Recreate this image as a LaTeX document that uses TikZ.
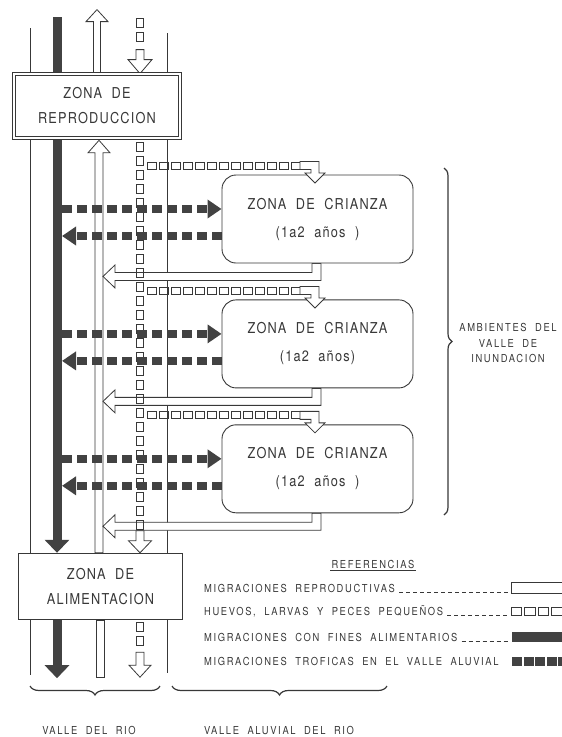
\documentclass[tikz,border=0pt]{standalone}
\usepackage{fontspec}
\setmainfont{TeX Gyre Heros}
\newfontfamily\zonafont{TeX Gyre Heros}[FakeStretch=0.85,LetterSpace=8,WordSpace=2]
\newfontfamily\notafont{TeX Gyre Heros}[FakeStretch=0.85,LetterSpace=15,WordSpace=2]
\usetikzlibrary{arrows.meta,positioning,backgrounds,decorations.pathreplacing,decorations.markings}
\definecolor{ink}{gray}{0.22}
\definecolor{bar}{gray}{0.26}
\tikzset{
  eggs/.style={decoration={markings,mark=between positions 0 and 1 step #1 with {\draw[ink,line width=0.8pt] (-4.5,-3.5) rectangle (4.5,3.5);}},decorate},
  curly/.style={draw=ink,line width=1.2pt,decorate,decoration={brace,amplitude=#1}}
}
\begin{document}
\begin{tikzpicture}[x=1pt,y=1pt]
\useasboundingbox (0,0) rectangle (562,-737);
\tikzstyle{zonanode} = [draw=ink,fill=white,align=center,text=ink,font={\zonafont\fontsize{15}{25}\selectfont}]
\tikzstyle{crianza} = [zonanode,rounded corners=14pt,line width=0.9pt,minimum width=191pt,minimum height=88pt]
\tikzstyle{hollow} = [draw=ink,fill=white,line width=0.8pt,line join=miter]
\tikzstyle{river} = [draw=ink,line width=0.8pt]
\tikzstyle{feed} = [draw=bar,line width=9pt,-{Triangle[length=13pt,width=24pt]}]
\tikzstyle{tropho} = [draw=bar,line width=8pt,dash pattern=on 10pt off 5pt,-{Triangle[length=14pt,width=18pt]}]
\tikzstyle{nota} = [text=ink,inner sep=1pt,font={\notafont\fontsize{11}{15.5}\selectfont}]
\tikzstyle{leader} = [draw=ink,line width=0.6pt,dash pattern=on 4pt off 3pt,shorten >=3pt]
%%%%%%%%%%%%%%%%%%%%%%%%%%%%%
% zonas
%%%%%%%%%%%%%%%%%%%%%%%%%%%%%
\node [zonanode,double,double distance=2.2pt,line width=0.8pt,minimum width=166pt,minimum height=64pt] (repro) at (97,-106) {ZONA DE\\REPRODUCCION};
\node [zonanode,line width=1.4pt,minimum width=164pt,minimum height=66pt] (alim) at (100.5,-586.5) {ZONA DE\\ALIMENTACION};
\node [crianza] (cri1) at (317.5,-219) {ZONA DE CRIANZA\\[3pt](1a2 años )};
\node [crianza,below=36pt of cri1] (cri2) {ZONA DE CRIANZA\\[3pt](1a2 años)};
\node [crianza,below=36pt of cri2] (cri3) {ZONA DE CRIANZA\\[3pt](1a2 años )};
%%%%%%%%%%%%%%%%%%%%%%%%%%%%%
% rio
%%%%%%%%%%%%%%%%%%%%%%%%%%%%%
\begin{pgfonlayer}{background}
\draw [river] (30,-28) -- (30,-675);
\draw [river] (167,-33) -- (167,-673);
\coordinate (feedtop) at (57,-17);
\coordinate (feedR) at (62,-17);
\draw [feed] (feedtop) -- (feedtop |- alim.north);
\draw [feed] (feedtop |- alim.south) -- ++(0,-58);
% migraciones reproductivas
\draw [hollow] (repro.north) ++(-3.5,0) -- ++(0,52) -- ++(-7.5,0) -- ++(11,12) -- ++(11,-12) -- ++(-7.5,0) -- ++(0,-52) -- cycle;
\coordinate (upbase) at ([xshift=-1.5pt]alim.north);
\draw [hollow] (upbase) ++(-4,0) -- ++(0,400) -- ++(-7,0) -- ++(11,12.5) -- ++(11,-12.5) -- ++(-7,0) -- ++(0,-400) -- cycle;
\draw [hollow] ([xshift=-4.5pt]alim.south) rectangle ++(8,-57);
\foreach \k in {1,2,3}
  \draw [hollow] ([xshift=-5.5pt]cri\k.south) -- ++(0,-9) -- ++(-197,0) -- ++(0,7.5) -- ++(-12,-11.5) -- ++(12,-11.5) -- ++(0,7.5) -- ++(206,0) -- ++(0,17) -- cycle;
% huevos, larvas
\coordinate (eggtop) at ([xshift=43pt]repro.north);
\coordinate (eggmid) at ([xshift=39.5pt]alim.north);
\coordinate (eggbot) at ([xshift=39.5pt]alim.south);
\path [eggs=14pt] ([yshift=51pt]eggtop) -- ([yshift=36pt]eggtop);
\draw [hollow] (eggtop) -- ++(-12,14) -- ++(8,0) -- ++(0,10) -- ++(8,0) -- ++(0,-10) -- ++(8,0) -- cycle;
\path [eggs=14pt] ([yshift=406pt]eggmid) -- ([yshift=24pt]eggmid);
\draw [hollow] (eggmid) -- ++(-11.5,12) -- ++(7.5,0) -- ++(0,10) -- ++(8,0) -- ++(0,-10) -- ++(7.5,0) -- cycle;
\path [eggs=14pt] ([yshift=-7pt]eggbot) -- ([yshift=-22pt]eggbot);
\draw [hollow] ([yshift=-57pt]eggbot) -- ++(-11,12) -- ++(7,0) -- ++(0,13) -- ++(8,0) -- ++(0,-13) -- ++(7,0) -- cycle;
\foreach \k in {1,2,3}
  \path [eggs=12pt] ([xshift=-165.5pt,yshift=9pt]cri\k.north) -- ([xshift=-21.5pt,yshift=9pt]cri\k.north);
% migraciones troficas
\foreach \k in {1,2,3} {
  \coordinate (in\k) at ([yshift=10pt]cri\k.west);
  \coordinate (out\k) at ([yshift=-17pt]cri\k.west);
  \draw [tropho] (feedR |- in\k) -- (in\k);
  \draw [tropho] (out\k) -- (feedR |- out\k);
}
\end{pgfonlayer}
\foreach \k in {1,2,3}
  \draw [hollow] ([xshift=-17.5pt,yshift=13pt]cri\k.north) -- ++(19,0) -- ++(0,-11.5) -- ++(6,0) -- ++(-10,-10) -- ++(-10,10) -- ++(6,0) -- ++(0,3.5) -- ++(-11,0) -- cycle;
%%%%%%%%%%%%%%%%%%%%%%%%%%%%%
% llaves
%%%%%%%%%%%%%%%%%%%%%%%%%%%%%
\coordinate (amb1) at (444,-168);
\coordinate (amb2) at (444,-515);
\draw [curly=8pt] (amb1) -- (amb2);
\node [nota,align=center] (amb) at (508,-343) {AMBIENTES DEL\\VALLE DE\\INUNDACION};
\coordinate (rio1) at (160,-686);
\coordinate (rio2) at (30,-686);
\coordinate (alu1) at (387,-686);
\coordinate (alu2) at (172,-686);
\draw [curly=9pt] (rio1) -- (rio2);
\draw [curly=9pt] (alu1) -- (alu2);
\node [nota] (rio) at (89,-730) {VALLE DEL RIO};
\node [nota] (aluvial) at (279,-730) {VALLE ALUVIAL DEL RIO};
%%%%%%%%%%%%%%%%%%%%%%%%%%%%%
% referencias
%%%%%%%%%%%%%%%%%%%%%%%%%%%%%
\node [nota] (refs) at (373,-564) {REFERENCIAS};
\draw [ink,line width=1pt] ([yshift=-1pt]refs.south west) -- ([yshift=-1pt]refs.south east);
\node [nota,anchor=base west] (m1) at (203,-592) {MIGRACIONES REPRODUCTIVAS};
\node [nota,anchor=base west] (m2) at (203,-615) {HUEVOS, LARVAS Y PECES PEQUEÑOS};
\node [nota,anchor=base west] (m3) at (203,-641) {MIGRACIONES CON FINES ALIMENTARIOS};
\node [nota,anchor=base west] (m4) at (203,-665) {MIGRACIONES TROFICAS EN EL VALLE ALUVIAL};
\coordinate (sw) at (511,-580);
\draw [leader] ([xshift=3pt]m1.base east) -- (m1.base -| sw);
\draw [leader] ([xshift=3pt]m2.base east) -- (m2.base -| sw);
\draw [leader] ([xshift=3pt]m3.base east) -- (m3.base -| sw);
\draw [ink,line width=0.9pt] (511,-582.5) rectangle (575,-593.5);
\foreach \i in {0,...,3} \draw [ink,line width=0.9pt] (511+13.5*\i,-607) rectangle ++(10.5,-8.5);
\fill [bar] (512,-632) rectangle (575,-642);
\foreach \i in {0,...,4} \fill [bar] (512+11.5*\i,-657) rectangle ++(10,-9);
\end{tikzpicture}
\end{document}
